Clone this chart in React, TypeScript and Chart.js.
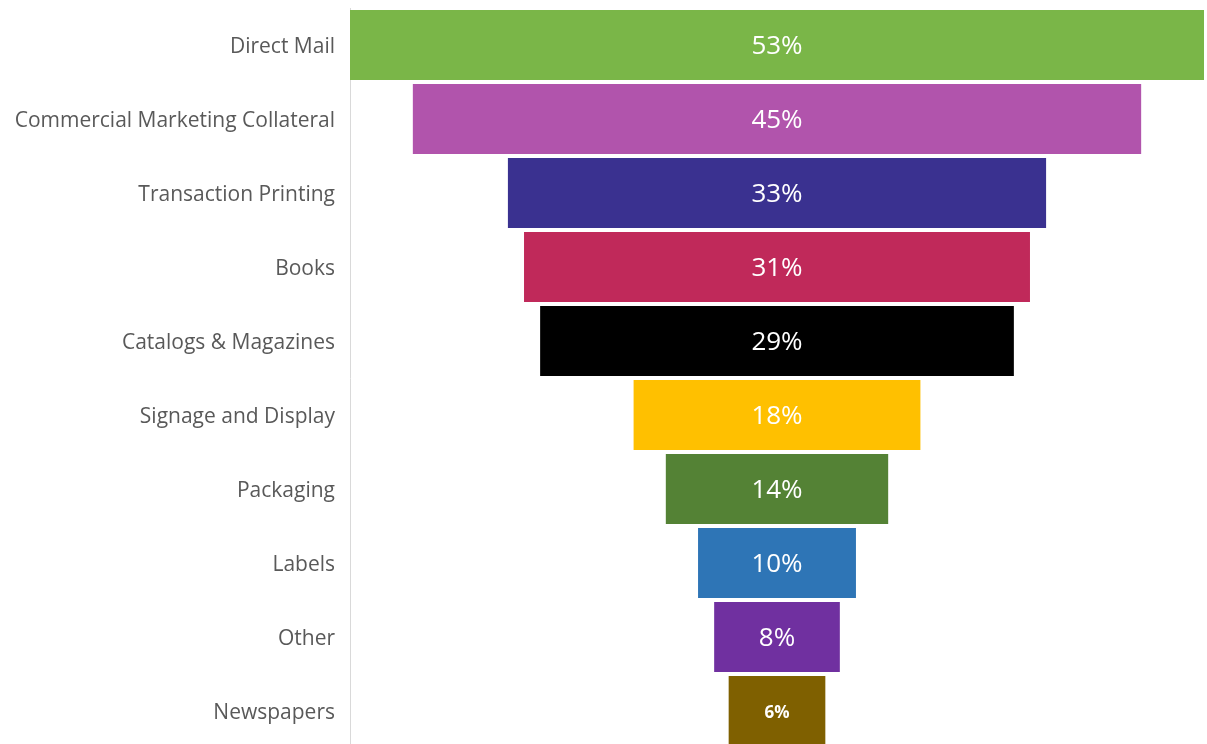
import React, { useEffect, useRef } from "react";
import { Chart, registerables } from "chart.js";

Chart.register(...registerables);

const categories = [
  "Direct Mail",
  "Commercial Marketing Collateral",
  "Transaction Printing",
  "Books",
  "Catalogs & Magazines",
  "Signage and Display",
  "Packaging",
  "Labels",
  "Other",
  "Newspapers",
];

const shares = [53, 45.2, 33.4, 31.4, 29.4, 17.8, 13.8, 9.8, 7.8, 6.0];

const colors = [
  "#7ab648",
  "#b154ac",
  "#3a3190",
  "#c0295a",
  "#000000",
  "#ffc000",
  "#548235",
  "#2e75b6",
  "#7030a0",
  "#7f6000",
];

const FONT = "'Open Sans', 'Noto Sans', sans-serif";

const centerLabels = {
  id: "centerLabels",
  afterDatasetsDraw(chart: any) {
    const ctx = chart.ctx;
    const meta = chart.getDatasetMeta(0);
    ctx.save();
    ctx.fillStyle = "#ffffff";
    ctx.textAlign = "center";
    ctx.textBaseline = "middle";
    meta.data.forEach((bar: any, i: number) => {
      const last = i === shares.length - 1;
      ctx.font = last ? `bold 17px ${FONT}` : `26px ${FONT}`;
      const x = chart.scales.x.getPixelForValue(0);
      ctx.fillText(Math.round(shares[i]) + "%", x, bar.y + 2);
    });
    ctx.restore();
  },
};

export default function App() {
  const ref = useRef<HTMLCanvasElement>(null);
  useEffect(() => {
    if (!ref.current) return;
    const maxV = Math.max(...shares);
    const chart = new Chart(ref.current, {
      type: "bar",
      data: {
        labels: categories,
        datasets: [
          {
            data: shares.map((v) => [-v / 2, v / 2]) as any,
            backgroundColor: colors,
            borderWidth: 0,
            barPercentage: 70 / 74,
            categoryPercentage: 1,
          },
        ],
      },
      options: {
        indexAxis: "y",
        responsive: false,
        animation: false,
        devicePixelRatio: 1,
        layout: { padding: { top: 8, right: 3, left: 0, bottom: 0 } },
        plugins: {
          legend: { display: false },
          tooltip: { enabled: false },
        },
        scales: {
          x: {
            display: false,
            min: -maxV / 2,
            max: maxV / 2,
          },
          y: {
            grid: { display: false, drawTicks: false },
            border: { display: true, color: "#d9d9d9", width: 1 },
            ticks: {
              color: "#595959",
              font: { family: FONT, size: 21 },
              padding: 15,
              labelOffset: 2,
            },
            afterFit: (scale: any) => {
              scale.width = 350;
              scale.paddingTop = 0;
              scale.paddingBottom = 0;
            },
          },
        },
      },
      plugins: [centerLabels],
    });
    return () => chart.destroy();
  }, []);
  return (
    <div
      style={{
        position: "absolute",
        left: 0,
        top: 0,
        width: 1207,
        height: 744,
        overflow: "hidden",
        background: "#ffffff",
      }}
    >
      <canvas ref={ref} width={1207} height={748} style={{ display: "block" }} />
    </div>
  );
}
